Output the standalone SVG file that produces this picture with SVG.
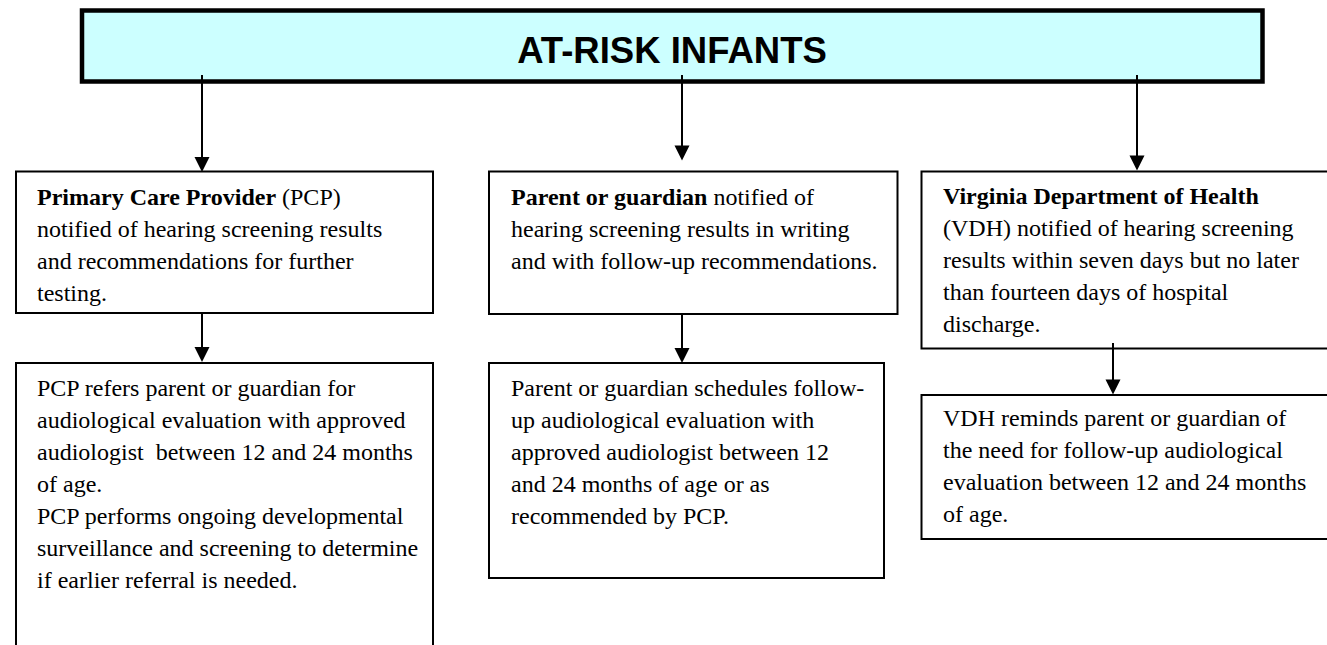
<svg xmlns="http://www.w3.org/2000/svg" width="1327" height="645" viewBox="0 0 1327 645">
<style>
.box{fill:#fff;stroke:#000;stroke-width:2}
.top{fill:#ccffff;stroke:#000;stroke-width:4.5}
.t{font-family:"Liberation Serif","Times New Roman",serif;font-size:24px;fill:#000}
.b{font-weight:bold}
.title{font-family:"Liberation Sans",Arial,sans-serif;font-size:36.5px;font-weight:bold;fill:#000}
.ln{stroke:#000;stroke-width:2;fill:none}
.hd{fill:#000}
</style>
<rect width="1327" height="645" fill="#fff"/>
<g id="atrisk">
<rect class="top" x="82" y="10.5" width="1180.5" height="71"/>
<text class="title" x="672" y="63" text-anchor="middle">AT-RISK INFANTS</text>
</g>
<g id="pcp">
<rect class="box" x="16" y="171.5" width="417" height="141.5"/>
<text class="t" x="37" y="205"><tspan class="b">Primary Care Provider</tspan> (PCP)</text>
<text class="t" x="37" y="237">notified of hearing screening results</text>
<text class="t" x="37" y="269">and recommendations for further</text>
<text class="t" x="37" y="301">testing.</text>
</g>
<g id="parent">
<rect class="box" x="489" y="171.5" width="408.5" height="142.5"/>
<text class="t" x="511" y="205"><tspan class="b">Parent or guardian</tspan> notified of</text>
<text class="t" x="511" y="237">hearing screening results in writing</text>
<text class="t" x="511" y="269">and with follow-up recommendations.</text>
</g>
<g id="vdh">
<rect class="box" x="921.5" y="171.5" width="420" height="177"/>
<text class="t" x="943" y="204"><tspan class="b">Virginia Department of Health</tspan></text>
<text class="t" x="943" y="236">(VDH) notified of hearing screening</text>
<text class="t" x="943" y="268">results within seven days but no later</text>
<text class="t" x="943" y="300">than fourteen days of hospital</text>
<text class="t" x="943" y="332">discharge.</text>
</g>
<g id="pcp-refers">
<rect class="box" x="16" y="363" width="417" height="300"/>
<text class="t" x="37" y="396">PCP refers parent or guardian for</text>
<text class="t" x="37" y="428">audiological evaluation with approved</text>
<text class="t" x="37" y="460" xml:space="preserve">audiologist  between 12 and 24 months</text>
<text class="t" x="37" y="492">of age.</text>
<text class="t" x="37" y="524">PCP performs ongoing developmental</text>
<text class="t" x="37" y="556">surveillance and screening to determine</text>
<text class="t" x="37" y="588">if earlier referral is needed.</text>
</g>
<g id="parent-schedules">
<rect class="box" x="489" y="363" width="395" height="215"/>
<text class="t" x="511" y="396">Parent or guardian schedules follow-</text>
<text class="t" x="511" y="428">up audiological evaluation with</text>
<text class="t" x="511" y="460">approved audiologist between 12</text>
<text class="t" x="511" y="492">and 24 months of age or as</text>
<text class="t" x="511" y="524">recommended by PCP.</text>
</g>
<g id="vdh-reminds">
<rect class="box" x="921.5" y="395" width="420" height="144"/>
<text class="t" x="943" y="426">VDH reminds parent or guardian of</text>
<text class="t" x="943" y="458">the need for follow-up audiological</text>
<text class="t" x="943" y="490">evaluation between 12 and 24 months</text>
<text class="t" x="943" y="522">of age.</text>
</g>
<g id="connectors">
<line class="ln" x1="202" y1="75" x2="202" y2="160"/>
<polygon class="hd" points="194.5,157 209.5,157 202,172"/>
<line class="ln" x1="682" y1="75" x2="682" y2="148"/>
<polygon class="hd" points="674.5,145.5 689.5,145.5 682,160.5"/>
<line class="ln" x1="1137" y1="75" x2="1137" y2="158"/>
<polygon class="hd" points="1129.5,155.5 1144.5,155.5 1137,170.5"/>
<line class="ln" x1="202" y1="313" x2="202" y2="350"/>
<polygon class="hd" points="194.5,347 209.5,347 202,362"/>
<line class="ln" x1="682" y1="314" x2="682" y2="351"/>
<polygon class="hd" points="674.5,348 689.5,348 682,363"/>
<line class="ln" x1="1113" y1="343" x2="1113" y2="382"/>
<polygon class="hd" points="1105.5,379.5 1120.5,379.5 1113,394.5"/>
</g>
</svg>
